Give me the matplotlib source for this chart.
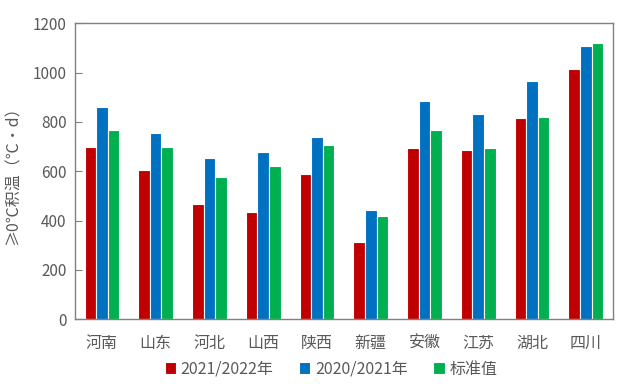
import numpy as np
import matplotlib
matplotlib.use("Agg")
import matplotlib.pyplot as plt

plt.rcParams['font.family'] = ['Noto Sans CJK SC', 'DejaVu Sans']

provinces = ['河南', '山东', '河北', '山西', '陕西', '新疆', '安徽', '江苏', '湖北', '四川']
y2122 = [700, 605, 466, 434, 590, 312, 693, 686, 817, 1015]
y2021 = [862, 756, 653, 677, 739, 443, 884, 831, 966, 1109]
normal = [766, 700, 576, 623, 708, 417, 767, 693, 821, 1119]

series = [('2021/2022年', y2122, '#C00000'),
          ('2020/2021年', y2021, '#0070C0'),
          ('标准值', normal, '#00B050')]

fig = plt.figure(figsize=(6.19, 3.84), dpi=100)
ax = fig.add_axes([75 / 619, 1 - 319.3 / 384, 537.7 / 619, 296 / 384])

x = np.arange(len(provinces))
w = 0.215
for i, (name, vals, col) in enumerate(series):
    ax.bar(x + (i - 1) * w, vals, width=w, color=col, edgecolor='white',
           linewidth=0.8, label=name)

ax.set_xlim(-0.5, len(provinces) - 0.5)
ax.set_ylim(0, 1200)
ax.set_yticks(range(0, 1201, 200))
ax.set_xticks(x)
ax.set_xticklabels(provinces)
ax.tick_params(axis='y', direction='in', length=5, color='#808080',
               labelsize=11, labelcolor='#595959', pad=6)
ax.tick_params(axis='x', length=0, labelsize=11.5, labelcolor='#595959', pad=11)
for s in ax.spines.values():
    s.set_color('#808080')
    s.set_linewidth(1)

ax.set_ylabel('≥0℃积温（℃•d）', fontsize=11.5, color='#595959', labelpad=8)

handles, labels = ax.get_legend_handles_labels()
fig.legend(handles, labels, loc='center', bbox_to_anchor=(331 / 619, 1 - 369 / 384),
           ncol=3, frameon=False, fontsize=11.5, labelcolor='#595959',
           handlelength=0.7, handleheight=0.7, handletextpad=0.3, columnspacing=1.6)

fig.savefig('out.png', dpi=100)
